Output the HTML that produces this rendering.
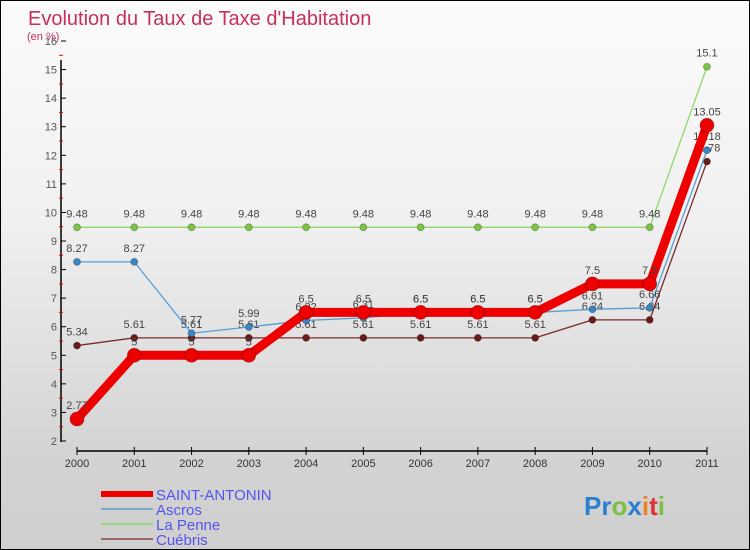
<!DOCTYPE html>
<html><head><meta charset="utf-8"><style>
body{margin:0}
#c{position:relative;width:748px;height:548px;border:1px solid #000;background:linear-gradient(#fbfbfb,#f0f0f0 40%,#d2d2d2 85%,#cfcfcf);font-family:"Liberation Sans",sans-serif;overflow:hidden}
svg{position:absolute;left:0;top:0}
</style></head><body>
<div id="c">
<svg id="s" width="750" height="550">
<text x="27" y="24" font-size="20" fill="#c8305a">Evolution du Taux de Taxe d'Habitation</text>
<text x="26" y="39" font-size="11" fill="#c8305a">(en %)</text>
</svg>
</div>
<script>
const years=["2000","2001","2002","2003","2004","2005","2006","2007","2008","2009","2010","2011"];
const saint=[2.77,5,5,5,6.5,6.5,6.5,6.5,6.5,7.5,7.5,13.05];
const ascros=[8.27,8.27,5.77,5.99,6.22,6.31,6.5,6.5,6.5,6.61,6.66,12.18];
const penne=[9.48,9.48,9.48,9.48,9.48,9.48,9.48,9.48,9.48,9.48,9.48,15.1];
const cuebris=[5.34,5.61,5.61,5.61,5.61,5.61,5.61,5.61,5.61,6.24,6.24,11.78];
const yTicks=[2,3,4,5,6,7,8,9,10,11,12,13,14,15,16];
const NS="http://www.w3.org/2000/svg";
const s=document.getElementById('s');
const X=i=>76+i*57.27, Y=v=>440-(v-2)*28.57;
function el(t,a,p){const e=document.createElementNS(NS,t);for(const k in a)e.setAttribute(k,a[k]);(p||s).appendChild(e);return e;}
let ax=el('line',{x1:60,y1:59,x2:60,y2:441,stroke:'#000','stroke-width':1.5});


let bx=el('line',{x1:76,y1:450,x2:706,y2:450,stroke:'#000','stroke-width':1.5});


yTicks.forEach(v=>{
 el('line',{x1:60,y1:Y(v),x2:65,y2:Y(v),stroke:'#000'});
 if(v<16)el('line',{x1:58,y1:Y(v+0.5),x2:62,y2:Y(v+0.5),stroke:'#e00'});
 const t=el('text',{x:56,y:Y(v)+4,'font-size':11,fill:'#555','text-anchor':'end'});
 t.textContent=v;
 
 
});
years.forEach((y,i)=>{
 el('line',{x1:X(i),y1:446,x2:X(i),y2:454,stroke:'#000'});
 const t=el('text',{x:X(i),y:466,'font-size':11,fill:'#333','text-anchor':'middle'});
 t.textContent=y;
 
 
});
function series(d,col,w,r,dot,name){
 const g=el('g',{});
 
 
 el('polyline',{points:d.map((v,i)=>X(i)+','+Y(v)).join(' '),fill:'none',stroke:col,'stroke-width':w,'stroke-linejoin':'round'},g);
 d.forEach((v,i)=>{
  const c=el('circle',{cx:X(i),cy:Y(v),r:r,fill:dot,stroke:'rgba(0,0,0,0.3)','stroke-width':0.8},g);
  
  
  const t=el('text',{x:X(i),y:Y(v)-10,'font-size':11,fill:'#444','text-anchor':'middle'},g);
  t.textContent=v;
  
  
 });
}
series(penne,'#8fd86a',1.3,3.5,'#7cc444','series-la-penne');
series(cuebris,'#7a2a2a',1.3,3.5,'#6b1a1a','series-cuebris');
series(ascros,'#5a9fd4',1.3,3.5,'#3a86c4','series-ascros');
series(saint,'#ee0000',9,7,'#ee0000','series-saint-antonin');
const leg=[['SAINT-ANTONIN','#ee0000',6],['Ascros','#7aaad0',2],['La Penne','#98d880',2],['Cuébris','#9a6a6a',2]];
leg.forEach((l,i)=>{
 const y=493+i*15;
 const g=el('g',{});
 
 
 el('line',{x1:100,y1:y,x2:152,y2:y,stroke:l[1],'stroke-width':l[2]},g);
 const t=el('text',{x:155,y:y+6,'font-size':15,fill:'#5555ee'},g);
 t.textContent=l[0];
});
const lg=el('text',{x:583,y:514,'font-size':26,'font-weight':'bold'});


[['Pr','#2a7fd0'],['o','#7ac143'],['x','#2a7fd0'],['i','#f08020'],['t','#e03030'],['i','#7ac143']].forEach(p=>{const ts=el('tspan',{fill:p[1]},lg);ts.textContent=p[0];});
</script>
</body></html>
